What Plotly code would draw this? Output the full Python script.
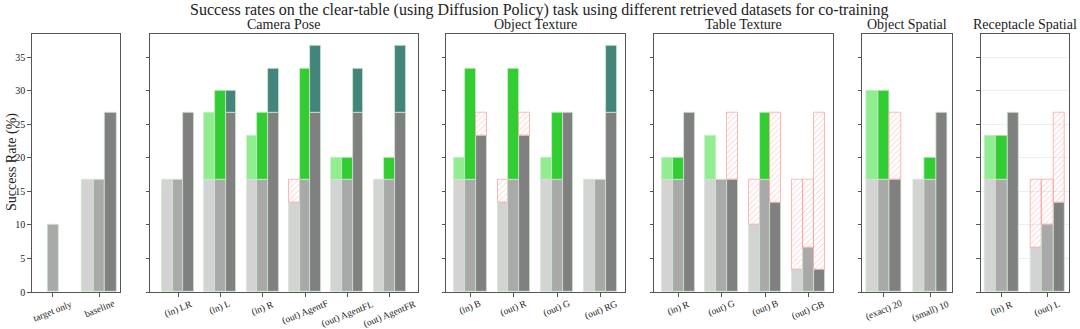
import plotly.graph_objects as go

# ---------------- data ----------------
panel_titles = ["", "Camera Pose", "Object Texture", "Table Texture", "Object Spatial", "Receptacle Spatial"]

labels_base = ["target only", "baseline"]
light_base = [0.0, 16.67]
mid_base = [10.0, 16.67]
dark_base = [0.0, 26.67]

labels_cam = ["(in) LR", "(in) L", "(in) R", "(out) AgentF", "(out) AgentFL", "(out) AgentFR"]
light_cam = [16.67, 26.67, 23.33, 13.33, 20.0, 16.67]
mid_cam = [16.67, 30.0, 26.67, 33.33, 20.0, 20.0]
dark_cam = [26.67, 30.0, 33.33, 36.67, 33.33, 36.67]

labels_obj = ["(in) B", "(out) R", "(out) G", "(out) RG"]
light_obj = [20.0, 13.33, 20.0, 16.67]
mid_obj = [33.33, 33.33, 26.67, 16.67]
dark_obj = [23.33, 23.33, 26.67, 36.67]

labels_tab = ["(in) R", "(out) G", "(out) B", "(out) GB"]
light_tab = [20.0, 23.33, 10.0, 3.33]
mid_tab = [20.0, 16.67, 26.67, 6.67]
dark_tab = [26.67, 16.67, 13.33, 3.33]

labels_osp = ["(exact) 20", "(small) 10"]
light_osp = [30.0, 16.67]
mid_osp = [30.0, 20.0]
dark_osp = [16.67, 26.67]

labels_rsp = ["(in) R", "(out) L"]
light_rsp = [23.33, 6.67]
mid_rsp = [23.33, 10.0]
dark_rsp = [26.67, 13.33]

baseline_light = 16.67
baseline_mid = 16.67
baseline_dark = 26.67

y_ticks = [0, 5, 10, 15, 20, 25, 30, 35]

# ---------------- styling ----------------
W, H = 1080, 329
FONT = "Liberation Serif"
gray_cols = ["#d3d3d3", "#a9a9a9", "#808080"]
green_cols = ["#90ee90", "#32cd32", "#43857a"]
edge_col = "rgba(205,232,205,1)"
hatch_edge = "rgba(255,160,160,0.75)"

panels = [
    (labels_base, [light_base, mid_base, dark_base], False),
    (labels_cam, [light_cam, mid_cam, dark_cam], True),
    (labels_obj, [light_obj, mid_obj, dark_obj], True),
    (labels_tab, [light_tab, mid_tab, dark_tab], True),
    (labels_osp, [light_osp, mid_osp, dark_osp], True),
    (labels_rsp, [light_rsp, mid_rsp, dark_rsp], True),
]
baselines = [baseline_light, baseline_mid, baseline_dark]


def px(xw):
    return xw / W


def py(yw):
    return (H - yw) / H


# pixel extents of the panels
px_x = [(31.7, 120.3), (150.0, 417.7), (446.0, 625.0), (654.0, 832.7), (862.3, 951.7), (980.7, 1069.0)]
py_top, py_bot = 33.7, 292.0
ydom = [py(py_bot), py(py_top)]

bw = 0.25
offsets = [-0.25, 0.0, 0.25]

fig = go.Figure()
annotations = []
layout_axes = {}

for pi, (labels, series, compare) in enumerate(panels):
    n = len(labels)
    ax = "" if pi == 0 else str(pi + 1)
    xref, yref = "x" + ax, "y" + ax
    for si, vals in enumerate(series):
        b = baselines[si]
        gx, gy, gbase = [], [], []
        ux, uy, ubase = [], [], []
        dx, dy, dbase = [], [], []
        for gi, v in enumerate(vals):
            x = gi + offsets[si]
            if compare:
                low = min(v, b)
                if low > 0:
                    gx.append(x); gy.append(low); gbase.append(0)
                if v > b:
                    ux.append(x); uy.append(v - b); ubase.append(b)
                elif v < b:
                    dx.append(x); dy.append(b - v); dbase.append(v)
            else:
                if v > 0:
                    gx.append(x); gy.append(v); gbase.append(0)
        if gx:
            fig.add_trace(go.Bar(x=gx, y=gy, base=gbase, width=bw, xaxis=xref, yaxis=yref,
                                 marker=dict(color=gray_cols[si], line=dict(color=edge_col, width=0.8)),
                                 showlegend=False, hoverinfo="skip"))
        if ux:
            fig.add_trace(go.Bar(x=ux, y=uy, base=ubase, width=bw, xaxis=xref, yaxis=yref,
                                 marker=dict(color=green_cols[si], line=dict(color=edge_col, width=0.8)),
                                 showlegend=False, hoverinfo="skip"))
        if dx:
            fig.add_trace(go.Bar(x=dx, y=dy, base=dbase, width=bw, xaxis=xref, yaxis=yref,
                                 marker=dict(color="rgba(255,255,255,0)",
                                             line=dict(color=hatch_edge, width=1),
                                             pattern=dict(shape="/", fgcolor="rgba(255,150,150,0.6)",
                                                          bgcolor="rgba(255,255,255,0)", size=4,
                                                          solidity=0.2, fillmode="replace")),
                                 showlegend=False, hoverinfo="skip"))

    span = (n - 1) + 0.75
    m = 0.05 * span
    xr = [-0.375 - m, n - 1 + 0.375 + m]
    x0, x1 = px_x[pi]
    layout_axes["xaxis" + ax] = dict(
        domain=[px(x0), px(x1)], range=xr, anchor=yref, automargin=False,
        showline=True, mirror=True, linecolor="#555555", linewidth=1,
        ticks="outside", ticklen=3.5, tickcolor="#555555", tickwidth=1,
        tickvals=list(range(n)), ticktext=[""] * n, showticklabels=False,
        showgrid=False, zeroline=False, fixedrange=True,
    )
    layout_axes["yaxis" + ax] = dict(
        domain=ydom, range=[0, 38.5], anchor=xref, automargin=False,
        showline=True, mirror=True, linecolor="#555555", linewidth=1,
        ticks="outside", ticklen=3.5, tickcolor="#555555", tickwidth=1,
        tickvals=y_ticks, showticklabels=(pi == 0),
        tickfont=dict(family=FONT, size=10, color="#222222"),
        showgrid=(pi == 5), gridcolor="#eeeeee", gridwidth=1,
        zeroline=False, fixedrange=True,
    )
    # category labels (rotated, centred under ticks)
    for gi, lab in enumerate(labels):
        annotations.append(dict(
            text=lab, x=gi, xref=xref, y=py(296), yref="paper",
            xanchor="center", yanchor="top", textangle=-22, showarrow=False,
            font=dict(family=FONT, size=9.5, color="#222222"),
        ))
    if panel_titles[pi]:
        annotations.append(dict(
            text=panel_titles[pi], x=px((x0 + x1) / 2), xref="paper", y=py(25), yref="paper",
            xanchor="center", yanchor="middle", showarrow=False,
            font=dict(family=FONT, size=14, color="#222222"),
        ))

annotations.append(dict(
    text="Success rates on the clear-table (using Diffusion Policy) task using different retrieved datasets for co-training",
    x=px(539), xref="paper", y=py(9.5), yref="paper", xanchor="center", yanchor="middle",
    showarrow=False, font=dict(family=FONT, size=16, color="#222222"),
))
annotations.append(dict(
    text="Success Rate (%)", x=px(12), xref="paper", y=py(162), yref="paper",
    xanchor="center", yanchor="middle", textangle=-90, showarrow=False,
    font=dict(family=FONT, size=14, color="#222222"),
))

fig.update_layout(
    template="none",
    width=W, height=H, autosize=False,
    margin=dict(l=0, r=0, t=0, b=0, pad=0),
    plot_bgcolor="white", paper_bgcolor="white",
    barmode="overlay", bargap=0,
    annotations=annotations,
    **layout_axes,
)

# remove the browser's default 8px page margin so the figure fills the window
fig.write_html("out.html", config={"displayModeBar": False},
               post_script="document.body.style.margin='0';")
